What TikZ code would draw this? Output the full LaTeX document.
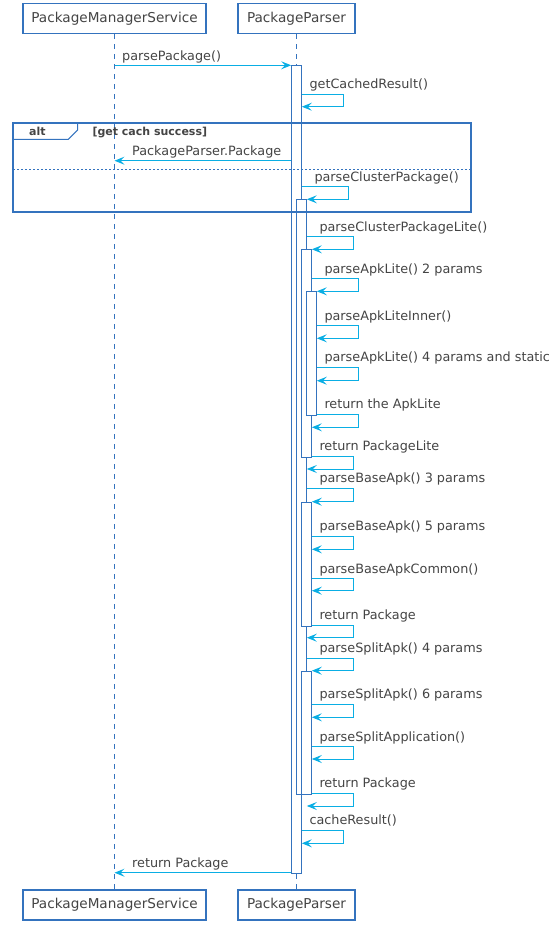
\documentclass[tikz,border=0pt]{standalone}
\usepackage{fontspec}
\setmainfont{DejaVu Sans}
\usetikzlibrary{arrows.meta}
\definecolor{lineblue}{RGB}{52,115,190}
\definecolor{msgcyan}{RGB}{10,174,228}
\definecolor{textgray}{RGB}{68,68,68}
\newcommand{\selfcall}[6]{%
\draw [msg] (#1.east |- 0,#3) -- (#5,#3) -- (#5,#4) -- (#2.east |- 0,#4);
\draw ({#5-34},{#3-5.5}) node [lbl] {#6};}
\begin{document}
\begin{tikzpicture}[x=1pt,y=-1pt,
	part/.style={draw=lineblue, line width=1.5pt, fill=white, minimum height=30pt, inner sep=0pt, font=\fontsize{13.6}{16}\selectfont, text=textgray},
	life/.style={lineblue, line width=0.9pt, dash pattern=on 5pt off 5pt},
	act/.style={draw=lineblue, line width=1pt, fill=white, minimum width=9.6pt, inner sep=0pt, anchor=north},
	msg/.style={msgcyan, line width=1pt, -{Stealth[length=10pt,width=8pt,inset=4pt]}},
	lbl/.style={anchor=base west, inner sep=0pt, font=\fontsize{12.8}{15}\selectfont, text=textgray},
	altlbl/.style={anchor=base west, inner sep=0pt, font=\fontsize{11}{13}\selectfont\bfseries, text=textgray}]
			\useasboundingbox (0,0) rectangle (559,930);
			\node [part, minimum width=183pt] (pms) at (114.5,18.3) {PackageManagerService};
			\node [part, minimum width=117pt] (pp) at (296.5,18.3) {PackageParser};
			\node [part, minimum width=183pt] (pmsb) at (114.5,905) {PackageManagerService};
			\node [part, minimum width=117pt] (ppb) at (296.5,905) {PackageParser};
			\draw [life] (pms.south) -- (pmsb.north);
			\draw [life] (pp.south) -- (ppb.north);
			\node [act, minimum height=807.4pt] (a1) at (296.5,65.3) {};
			\node [act, minimum height=594.7pt] (a2) at (301.5,199.3) {};
			\node [act, minimum height=207.4pt] (a3) at (306.5,249.3) {};
			\node [act, minimum height=123.7pt] (a4) at (311.5,291.3) {};
			\node [act, minimum height=124.3pt] (a5) at (306.5,501.7) {};
			\node [act, minimum height=123.3pt] (a6) at (306.5,670.7) {};
			\draw [lineblue, line width=1.8pt] (13.3,122.7) rectangle (471,211.7);
			\draw [lineblue, line width=1pt] (13.3,139.3) -- (68.3,139.3) -- (77.7,130) -- (77.7,122.7);
			\draw (29,135) node [altlbl] {alt};
			\draw (92.3,135) node [altlbl] {[get cach success]};
			\draw [lineblue, line width=0.8pt, dash pattern=on 2pt off 2pt] (13.3,169.3) -- (471,169.3);
			\draw [msg] (pms.south |- 0,65.3) -- (a1.west |- 0,65.3);
			\draw (122,60) node [lbl] {parsePackage()};
			\selfcall{a1}{a1}{94}{106.7}{343.3}{getCachedResult()}
			\draw [msg] (a1.west |- 0,160.7) -- (pms.south |- 0,160.7);
			\draw (132,155.3) node [lbl] {PackageParser.Package};
			\selfcall{a1}{a2}{186.7}{199.3}{348.3}{parseClusterPackage()}
			\selfcall{a2}{a3}{236.7}{249.3}{353.3}{parseClusterPackageLite()}
			\selfcall{a3}{a4}{278.7}{291.3}{358.3}{parseApkLite() 2 params}
			\selfcall{a4}{a4}{325.7}{338.3}{358.3}{parseApkLiteInner()}
			\selfcall{a4}{a4}{367.3}{380.7}{358.3}{parseApkLite() 4 params and static}
			\selfcall{a4}{a3}{414.3}{427.3}{358.3}{return the ApkLite}
			\selfcall{a3}{a2}{456.3}{469}{353.3}{return PackageLite}
			\selfcall{a2}{a5}{488.3}{501.7}{353.3}{parseBaseApk() 3 params}
			\selfcall{a5}{a5}{536.3}{549.3}{353.3}{parseBaseApk() 5 params}
			\selfcall{a5}{a5}{578.7}{590.7}{353.3}{parseBaseApkCommon()}
			\selfcall{a5}{a2}{625.3}{637.7}{353.3}{return Package}
			\selfcall{a2}{a6}{658}{670.7}{353.3}{parseSplitApk() 4 params}
			\selfcall{a6}{a6}{704.3}{717.3}{353.3}{parseSplitApk() 6 params}
			\selfcall{a6}{a6}{746.7}{759}{353.3}{parseSplitApplication()}
			\selfcall{a6}{a2}{793.3}{806}{353.3}{return Package}
			\selfcall{a1}{a1}{830.3}{843.3}{343.3}{cacheResult()}
			\draw [msg] (a1.west |- 0,872.7) -- (pms.south |- 0,872.7);
			\draw (132,867.4) node [lbl] {return Package};
\end{tikzpicture}
\end{document}
